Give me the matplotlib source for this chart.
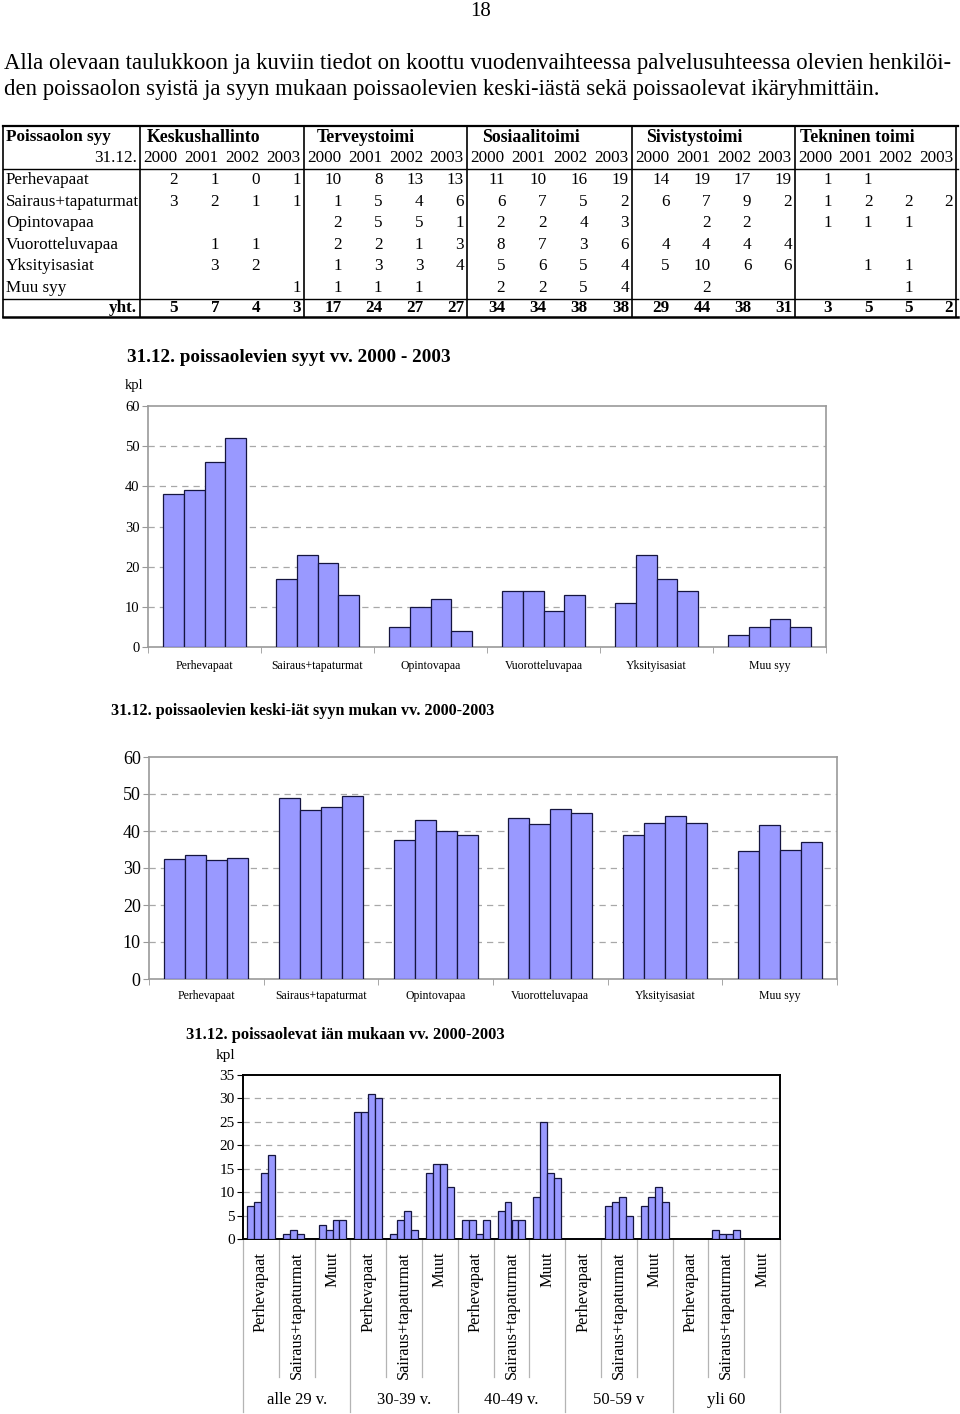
import numpy as np
import matplotlib
matplotlib.use("Agg")
import matplotlib.pyplot as plt
import matplotlib.transforms as mtransforms

plt.rcParams['font.family'] = ['Liberation Serif', 'DejaVu Serif']

W, H = 960, 1414

# ---- data ----
years = ['2000', '2001', '2002', '2003']
reasons = ['Perhevapaat', 'Sairaus+tapaturmat', 'Opintovapaa',
           'Vuorotteluvapaa', 'Yksityisasiat', 'Muu syy']
depts = ['Keskushallinto', 'Terveystoimi', 'Sosiaalitoimi',
         'Sivistystoimi', 'Tekninen toimi']

N = None
keskushallinto = [[2, 1, 0, 1], [3, 2, 1, 1], [N, N, N, N],
                  [N, 1, 1, N], [N, 3, 2, N], [N, N, N, 1]]
terveystoimi = [[10, 8, 13, 13], [1, 5, 4, 6], [2, 5, 5, 1],
                [2, 2, 1, 3], [1, 3, 3, 4], [1, 1, 1, N]]
sosiaalitoimi = [[11, 10, 16, 19], [6, 7, 5, 2], [2, 2, 4, 3],
                 [8, 7, 3, 6], [5, 6, 5, 4], [2, 2, 5, 4]]
sivistystoimi = [[14, 19, 17, 19], [6, 7, 9, 2], [N, 2, 2, N],
                 [4, 4, 4, 4], [5, 10, 6, 6], [N, 2, N, N]]
tekninen = [[1, 1, N, N], [1, 2, 2, 2], [1, 1, 1, N],
            [N, N, N, N], [N, 1, 1, N], [N, N, 1, N]]
table = [keskushallinto, terveystoimi, sosiaalitoimi, sivistystoimi, tekninen]

# keski-iät syyn mukaan (rivit = syy, sarakkeet = vuosi)
keski_iat = [[32.4, 33.4, 32.2, 32.8],
             [48.9, 45.6, 46.5, 49.5],
             [37.5, 43.1, 39.9, 38.8],
             [43.4, 41.8, 45.9, 44.9],
             [39.0, 42.1, 44.0, 42.1],
             [34.7, 41.5, 35.0, 37.1]]

# poissaolevat iän mukaan
age_groups = ['alle 29 v.', '30-39 v.', '40-49 v.', '50-59 v', 'yli 60']
age_subs = ['Perhevapaat', 'Sairaus+tapaturmat', 'Muut']
alle29 = [[7, 8, 14, 18], [1, 2, 1, 0], [3, 2, 4, 4]]
v30_39 = [[27, 27, 31, 30], [1, 4, 6, 2], [14, 16, 16, 11]]
v40_49 = [[4, 4, 1, 4], [6, 8, 4, 4], [9, 25, 14, 13]]
v50_59 = [[0, 0, 0, 0], [7, 8, 9, 5], [7, 9, 11, 8]]
yli60 = [[0, 0, 0, 0], [2, 1, 1, 2], [0, 0, 0, 0]]
age_data = [alle29, v30_39, v40_49, v50_59, yli60]

BAR = '#9999ff'
EDGE = '#15153f'
GRID = '#a8a8a8'

fig = plt.figure(figsize=(W / 100, H / 100), dpi=100)
page = fig.add_axes([0, 0, 1, 1])
page.set_xlim(0, W)
page.set_ylim(H, 0)
page.axis('off')


def px_axes(l, t, r, b):
    return fig.add_axes([l / W, 1 - b / H, (r - l) / W, (b - t) / H])


# ---- page text ----
page.text(481, 11, '18', ha='center', va='center', fontsize=15)
page.text(4, 63, 'Alla olevaan taulukkoon ja kuviin tiedot on koottu vuodenvaihteessa '
          'palvelusuhteessa olevien henkilöi-', va='center', fontsize=16.4)
page.text(4, 90, 'den poissaolon syistä ja syyn mukaan poissaolevien keski-iästä sekä '
          'poissaolevat ikäryhmittäin.', va='center', fontsize=16.4)

# ---- table ----
gs = [140, 304, 467, 632, 795, 956]
for y, lw in [(126, 1.6), (169, 1.0), (299, 1.0), (317, 1.8)]:
    page.plot([3, 958], [y, y], color='black', lw=lw)
page.plot([3, 3], [126, 317], color='black', lw=1.2)
for x in gs:
    page.plot([x, x], [126, 317], color='black', lw=1.2)

TFS = 12.3
page.text(6, 137, 'Poissaolon syy', va='center', fontsize=TFS, fontweight='bold')
page.text(137, 158, '31.12.', va='center', ha='right', fontsize=TFS)
name_x = [147, 317, 482, 646, 800]
row_y = [180, 202, 223, 245, 266, 288]
for r, reason in enumerate(reasons):
    page.text(6, row_y[r], reason, va='center', fontsize=TFS)
page.text(137, 308, 'yht.', va='center', ha='right', fontsize=TFS, fontweight='bold')

for d, dept in enumerate(depts):
    left = gs[d]
    w = (gs[d + 1] - gs[d]) / 4
    page.text(name_x[d], 137, dept, va='center', fontsize=TFS + 0.5, fontweight='bold')
    for j, yr in enumerate(years):
        page.text(left + (j + 0.5) * w, 158, yr, va='center', ha='center', fontsize=TFS)
        xr = left + (j + 1) * w - 3
        total = 0
        for r in range(len(reasons)):
            v = table[d][r][j]
            if v is not None:
                total += v
                page.text(xr, row_y[r], str(v), va='center', ha='right', fontsize=TFS)
        page.text(xr, 308, str(total), va='center', ha='right', fontsize=TFS,
                  fontweight='bold')

# ---- chart 1: poissaolevien syyt ----
syyt = [[sum(table[d][r][j] or 0 for d in range(len(depts))) for j in range(4)]
        for r in range(len(reasons))]

page.text(127, 358, '31.12. poissaolevien syyt vv. 2000 - 2003', va='center',
          fontsize=13.8, fontweight='bold')
page.text(125, 385, 'kpl', va='center', fontsize=10.5)


def grouped(ax, values, ncat, bw):
    x = np.arange(ncat) + 0.5
    vals = np.array(values)
    for j in range(vals.shape[1]):
        ax.bar(x + (j - 1.5) * bw, vals[:, j], bw, color=BAR, edgecolor=EDGE,
               linewidth=0.9, zorder=3)
    ax.set_xlim(0, ncat)


ax1 = px_axes(148, 406, 826, 647)
grouped(ax1, syyt, 6, 0.184)
ax1.set_ylim(0, 60)
ax1.set_yticks(range(0, 61, 10))
ax1.set_xticks(np.arange(6) + 0.5)
ax1.set_xticklabels(reasons, fontsize=8.5)
ax1.set_xticks(range(0, 7), minor=True)
ax1.tick_params(axis='x', which='major', length=0, pad=9)
ax1.tick_params(axis='x', which='minor', length=4, color='#999999')
ax1.tick_params(axis='y', labelsize=10.5, length=4, color='#999999', pad=2)
for sp in ax1.spines.values():
    sp.set_color('#9a9a9a')
    sp.set_linewidth(1.2)
for v in range(10, 60, 10):
    ax1.axhline(v, color=GRID, lw=0.9, ls=(0, (5, 4)), zorder=1)

# ---- chart 2: keski-iät ----
page.text(111, 711, '31.12. poissaolevien keski-iät syyn mukan vv. 2000-2003',
          va='center', fontsize=11.6, fontweight='bold')
ax2 = px_axes(149, 757, 837, 979)
grouped(ax2, keski_iat, 6, 0.183)
ax2.set_ylim(0, 60)
ax2.set_yticks(range(0, 61, 10))
ax2.set_xticks(np.arange(6) + 0.5)
ax2.set_xticklabels(reasons, fontsize=8.5)
ax2.set_xticks(range(0, 7), minor=True)
ax2.tick_params(axis='x', which='major', length=0, pad=8)
ax2.tick_params(axis='x', which='minor', length=4, color='#999999')
ax2.tick_params(axis='y', labelsize=13, length=4, color='#999999', pad=2)
for sp in ax2.spines.values():
    sp.set_color('#9a9a9a')
    sp.set_linewidth(1.2)
for v in range(10, 60, 10):
    ax2.axhline(v, color=GRID, lw=0.9, ls=(0, (5, 4)), zorder=1)

# ---- chart 3: iän mukaan ----
page.text(186, 1035, '31.12. poissaolevat iän mukaan vv. 2000-2003', va='center',
          fontsize=11.9, fontweight='bold')
page.text(216, 1056, 'kpl', va='center', fontsize=11)
ax3 = px_axes(243, 1075, 780, 1239)
flat = [sub for grp in age_data for sub in grp]
ncat3 = len(flat)
grouped(ax3, flat, ncat3, 0.195)
ax3.set_ylim(0, 35)
ax3.set_yticks(range(0, 36, 5))
ax3.set_xticks([])
ax3.tick_params(axis='y', labelsize=11, length=4, pad=2)
for sp in ax3.spines.values():
    sp.set_color('black')
    sp.set_linewidth(1.4)
for v in range(5, 35, 5):
    ax3.axhline(v, color=GRID, lw=0.9, ls=(0, (5, 4)), zorder=1)

trans = mtransforms.blended_transform_factory(ax3.transData, ax3.transAxes)
nsub = len(age_subs)
for k in range(ncat3 + 1):
    low = -1.055 if k % nsub == 0 else -0.841
    ax3.plot([k, k], [0, low], transform=trans, clip_on=False,
             color='#b4b4b4', lw=0.9)
for g, grp in enumerate(age_groups):
    for s, sub in enumerate(age_subs):
        k = g * nsub + s
        ax3.text(k + 0.5, -0.079, sub, transform=trans, rotation=90,
                 ha='center', va='top', fontsize=11.8)
    ax3.text(g * nsub + nsub / 2, -0.982, grp, transform=trans,
             ha='center', va='center', fontsize=12)

fig.savefig('out.png', dpi=100)
